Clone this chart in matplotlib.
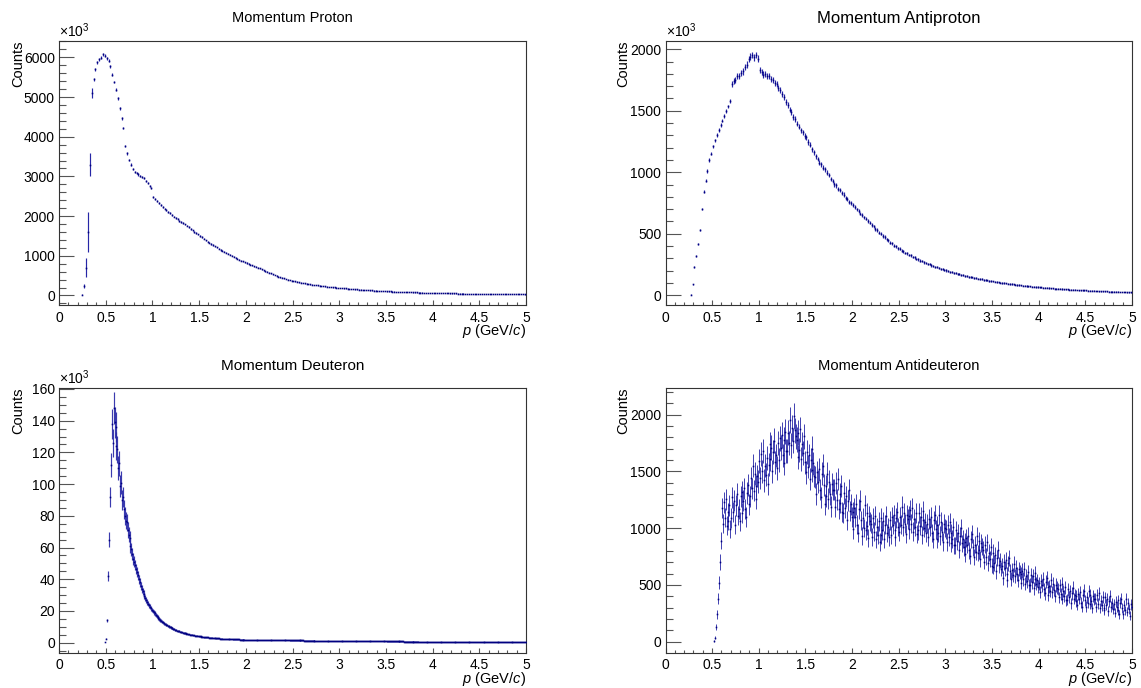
import numpy as np
import matplotlib
matplotlib.use("Agg")
import matplotlib.pyplot as plt
from matplotlib.ticker import MultipleLocator, AutoMinorLocator

plt.rcParams['font.family'] = ['Liberation Sans', 'DejaVu Sans']
plt.rcParams['mathtext.fontset'] = 'custom'
plt.rcParams['mathtext.rm'] = 'Liberation Sans'
plt.rcParams['mathtext.it'] = 'Liberation Sans:italic'

# ---------------- data (counts, y in units shown on the axis) ----------------
titles = ["Momentum Proton", "Momentum Antiproton", "Momentum Deuteron", "Momentum Antideuteron"]

# Proton: bins of 0.02 GeV/c, first bin centre 0.25  (x10^3 counts)
proton_start, proton_width = 0.25, 0.02
proton = [
    20, 240, 700, 1600, 3300, 5100, 5450, 5700, 5880, 5950,
    5990, 6080, 6040, 5980, 5920, 5780, 5560, 5380, 5180, 4970,
    4720, 4460, 4220, 3760, 3580, 3420, 3300, 3190, 3120, 3080,
    3050, 3020, 2990, 2950, 2890, 2830, 2770, 2700, 2480, 2420,
    2370, 2320, 2270, 2230, 2190, 2150, 2110, 2070, 2030, 1990,
    1955, 1920, 1885, 1850, 1820, 1790, 1760, 1720, 1680, 1640,
    1600, 1570, 1540, 1500, 1470, 1430, 1390, 1360, 1330, 1300,
    1270, 1240, 1210, 1180, 1150, 1125, 1100, 1075, 1050, 1025,
    1000, 975, 950, 925, 900, 880, 860, 840, 820, 800,
    780, 760, 740, 720, 700, 680, 660, 640, 615, 595,
    575, 555, 535, 515, 495, 478, 460, 445, 430, 415,
    400, 388, 375, 365, 355, 345, 335, 326, 317, 308,
    300, 292, 284, 276, 268, 261, 254, 247, 241, 235,
    229, 223, 218, 212, 207, 202, 197, 192, 188, 184,
    180, 176, 172, 168, 164, 160, 156, 152, 148, 145,
    141, 138, 135, 132, 129, 126, 123, 120, 117, 114,
    112, 109, 107, 105, 103, 101, 99, 97, 95, 93,
    91, 89, 87, 85, 83, 81, 80, 78, 77, 75,
    74, 72, 71, 69, 68, 66, 65, 63, 62, 61,
    60, 59, 58, 57, 56, 55, 54, 53, 52, 51,
    50, 49, 48, 47.5, 47, 46, 45, 44.5, 44, 43,
    42, 41.5, 41, 40, 39.5, 39, 38, 37.5, 37, 36.5,
    36, 35, 34.5, 34, 33.5, 33, 32.5, 32, 31.5, 31,
    30.5, 30, 29.5, 29, 28.5, 28, 27.5, 27]
proton_edge_err = [20, 60, 240, 500, 300, 120]

# Antiproton: bins of 0.02 GeV/c, first bin centre 0.27  (x10^3 counts)
antiproton_start, antiproton_width = 0.27, 0.02
antiproton = [
    5, 90, 230, 320, 420, 530, 700, 840, 930, 1010,
    1100, 1150, 1210, 1260, 1305, 1345, 1385, 1420, 1455, 1495,
    1535, 1580, 1715, 1745, 1750, 1780, 1785, 1810, 1820, 1855,
    1875, 1920, 1940, 1955, 1935, 1955, 1925, 1830, 1815, 1795,
    1800, 1785, 1783, 1760, 1750, 1725, 1718, 1685, 1672, 1635,
    1610, 1570, 1548, 1510, 1490, 1450, 1434, 1395, 1372, 1340,
    1325, 1296, 1284, 1246, 1224, 1186, 1163, 1131, 1108, 1077,
    1063, 1036, 1024, 996, 979, 946, 928, 901, 893, 866,
    858, 831, 818, 792, 783, 761, 753, 731, 721, 697,
    688, 664, 655, 632, 623, 601, 591, 569, 560, 539,
    530, 509, 501, 481, 473, 453, 446, 427, 421, 403,
    398, 381, 377, 361, 358, 343, 340, 327, 324, 311,
    308, 296, 292, 281, 278, 267, 264, 254, 252, 242,
    238, 232, 226, 221, 216, 211, 206, 201, 196, 191,
    186, 182, 178, 174, 170, 166, 162, 158, 154, 151,
    148, 144, 141, 138, 135, 132, 129, 126, 123, 120,
    117, 115, 112, 110, 107, 105, 102, 100, 98, 96,
    94, 92, 90, 88, 86, 84, 82, 80, 78, 77,
    75, 73, 72, 70, 69, 67, 66, 64, 63, 62,
    60, 59, 58, 57, 55, 54, 53, 52, 51, 50,
    49, 48, 47, 46, 45, 44, 43, 42, 41, 40,
    39, 38.5, 38, 37, 36, 35.5, 35, 34, 33.5, 33,
    32, 31.5, 31, 30, 29.5, 29, 28.5, 28, 27.5, 27,
    26.5, 26, 25.5, 25, 24.5, 24, 23.5]

# Deuteron: bins of 0.01 GeV/c, first bin centre 0.495  (x10^3 counts)
deuteron_start, deuteron_width = 0.495, 0.01
deuteron = [
    0.3,
    2.5, 14, 42, 65, 92, 112, 138, 126, 148, 139,          # 0.505-0.595
    136, 124, 122, 110, 113, 99, 101, 90, 92, 84,          # 0.6x
    80, 77, 76, 71, 68, 66, 61, 59, 56, 53,                # 0.7x
    51, 49, 46.5, 44.5, 42.5, 40, 38, 36, 34, 32.5,        # 0.8x
    31, 29.5, 28, 27, 25.8, 24.6, 23.6, 22.6, 21.6, 20.7,  # 0.9x
    19.9, 19.1, 18.4, 17.6, 16.9, 16.2, 15.5, 14.9, 14.3, 13.8,  # 1.0x
    13.3, 12.8, 12.3, 11.8, 11.4, 11.0, 10.6, 10.2, 9.9, 9.6,    # 1.1x
    9.3, 9.0, 8.7, 8.4, 8.1, 7.9, 7.6, 7.4, 7.2, 6.9,            # 1.2x
    6.7, 6.5, 6.4, 6.2, 6.0, 5.9, 5.7, 5.6, 5.4, 5.3,            # 1.3x
    5.1, 5.0, 4.9, 4.7, 4.6, 4.5, 4.4, 4.3, 4.2, 4.1,            # 1.4x
    4.0, 3.9, 3.8, 3.7, 3.6, 3.5, 3.45, 3.4, 3.35, 3.3,          # 1.5x
    3.2, 3.15, 3.1, 3.05, 3.0, 2.95, 2.9, 2.85, 2.8, 2.75,       # 1.6x
    2.7, 2.65, 2.6, 2.55, 2.5, 2.45, 2.4, 2.38, 2.35, 2.32,      # 1.7x
    2.3, 2.27, 2.24, 2.21, 2.18, 2.15, 2.12, 2.1, 2.08, 2.06,    # 1.8x
    2.04, 2.02, 2.0, 1.98, 1.96, 1.94, 1.92, 1.9, 1.88, 1.86,    # 1.9x
    1.85, 1.84, 1.83, 1.82, 1.81, 1.80, 1.79, 1.78, 1.77, 1.76,  # 2.0x
    1.75, 1.74, 1.73, 1.73, 1.72, 1.71, 1.70, 1.70, 1.69, 1.68,  # 2.1x
    1.67, 1.67, 1.66, 1.65, 1.64, 1.64, 1.63, 1.62, 1.61, 1.61,  # 2.2x
    1.60, 1.59, 1.58, 1.58, 1.57, 1.56, 1.55, 1.55, 1.54, 1.53,  # 2.3x
    1.52, 1.52, 1.51, 1.50, 1.49, 1.49, 1.48, 1.47, 1.46, 1.46,  # 2.4x
    1.45, 1.44, 1.43, 1.43, 1.42, 1.41, 1.40, 1.40, 1.39, 1.38,  # 2.5x
    1.37, 1.37, 1.36, 1.35, 1.34, 1.34, 1.33, 1.32, 1.31, 1.31,  # 2.6x
    1.30, 1.29, 1.28, 1.28, 1.27, 1.26, 1.25, 1.25, 1.24, 1.23,  # 2.7x
    1.22, 1.22, 1.21, 1.20, 1.19, 1.19, 1.18, 1.17, 1.16, 1.16,  # 2.8x
    1.15, 1.14, 1.13, 1.13, 1.12, 1.11, 1.10, 1.10, 1.09, 1.08,  # 2.9x
    1.07, 1.07, 1.06, 1.05, 1.04, 1.04, 1.03, 1.02, 1.01, 1.01,  # 3.0x
    1.00, 0.99, 0.98, 0.98, 0.97, 0.96, 0.95, 0.95, 0.94, 0.93,  # 3.1x
    0.93, 0.92, 0.92, 0.91, 0.91, 0.90, 0.90, 0.89, 0.89, 0.88,  # 3.2x
    0.88, 0.88, 0.87, 0.87, 0.86, 0.86, 0.85, 0.85, 0.84, 0.84,  # 3.3x
    0.84, 0.83, 0.83, 0.82, 0.82, 0.82, 0.81, 0.81, 0.80, 0.80,  # 3.4x
    0.80, 0.79, 0.79, 0.79, 0.78, 0.78, 0.78, 0.77, 0.77, 0.77,  # 3.5x
    0.76, 0.76, 0.76, 0.75, 0.75, 0.75, 0.74, 0.74, 0.74, 0.73,  # 3.6x
    0.73, 0.73, 0.72, 0.72, 0.72, 0.71, 0.71, 0.71, 0.70, 0.70,  # 3.7x
    0.70, 0.70, 0.69, 0.69, 0.69, 0.68, 0.68, 0.68, 0.67, 0.67,  # 3.8x
    0.67, 0.67, 0.66, 0.66, 0.66, 0.65, 0.65, 0.65, 0.64, 0.64,  # 3.9x
    0.64, 0.64, 0.63, 0.63, 0.63, 0.63, 0.62, 0.62, 0.62, 0.62,  # 4.0x
    0.62, 0.61, 0.61, 0.61, 0.61, 0.60, 0.60, 0.60, 0.60, 0.60,  # 4.1x
    0.60, 0.59, 0.59, 0.59, 0.59, 0.58, 0.58, 0.58, 0.58, 0.58,  # 4.2x
    0.58, 0.57, 0.57, 0.57, 0.57, 0.56, 0.56, 0.56, 0.56, 0.56,  # 4.3x
    0.56, 0.55, 0.55, 0.55, 0.55, 0.54, 0.54, 0.54, 0.54, 0.54,  # 4.4x
    0.54, 0.53, 0.53, 0.53, 0.53, 0.52, 0.52, 0.52, 0.52, 0.52,  # 4.5x
    0.52, 0.51, 0.51, 0.51, 0.51, 0.50, 0.50, 0.50, 0.50, 0.50,  # 4.6x
    0.50, 0.49, 0.49, 0.49, 0.49, 0.48, 0.48, 0.48, 0.48, 0.48,  # 4.7x
    0.48, 0.47, 0.47, 0.47, 0.47, 0.46, 0.46, 0.46, 0.46, 0.46,  # 4.8x
    0.46, 0.45, 0.45, 0.45, 0.45, 0.44, 0.44, 0.44, 0.44, 0.44]  # 4.9x

# Antideuteron: bins of 0.01 GeV/c, first bin centre 0.525  (counts)
antideuteron_start, antideuteron_width = 0.525, 0.01
antideuteron = [
    5, 35, 130, 240, 380, 520, 700, 890,                           # 0.525-0.595
    1174, 1039, 1228, 1093, 1255, 1021, 1138, 1066, 1201, 994,     # 0.6x
    1090, 1270, 1140, 1240, 1030, 1200, 1300, 1110, 1170, 1060,    # 0.7x
    1280, 1130, 1320, 1240, 1350, 1170, 1100, 1310, 1380, 1210,    # 0.8x
    1280, 1440, 1350, 1550, 1330, 1480, 1370, 1260, 1460, 1410,    # 0.9x
    1590, 1440, 1650, 1500, 1680, 1420, 1550, 1470, 1620, 1390,    # 1.0x
    1560, 1740, 1610, 1710, 1500, 1670, 1770, 1580, 1640, 1530,    # 1.1x
    1750, 1600, 1790, 1710, 1820, 1640, 1570, 1780, 1850, 1680,    # 1.2x
    1680, 1840, 1750, 1950, 1730, 1880, 1770, 1990, 1860, 1810,    # 1.3x
    1780, 1630, 1840, 1690, 1870, 1610, 1740, 1660, 1810, 1580,    # 1.4x
    1490, 1670, 1540, 1640, 1430, 1600, 1700, 1510, 1570, 1460,    # 1.5x
    1450, 1300, 1490, 1410, 1520, 1340, 1270, 1480, 1550, 1380,    # 1.6x
    1210, 1370, 1280, 1480, 1260, 1410, 1300, 1190, 1390, 1340,    # 1.7x
    1340, 1190, 1400, 1250, 1430, 1170, 1300, 1220, 1370, 1140,    # 1.8x
    1130, 1310, 1180, 1280, 1070, 1240, 1340, 1150, 1210, 1100,    # 1.9x
    1140, 990, 1180, 1100, 1210, 1030, 960, 1170, 1240, 1070,      # 2.0x
    930, 1090, 1000, 1200, 980, 1130, 1020, 910, 1110, 1060,       # 2.1x
    1040, 920, 1090, 970, 1110, 900, 1010, 940, 1060, 880,         # 2.2x
    940, 1090, 980, 1060, 900, 1030, 1110, 960, 1010, 920,         # 2.3x
    1070, 940, 1100, 1030, 1120, 980, 920, 1090, 1140, 1010,       # 2.4x
    970, 1100, 1030, 1190, 1010, 1130, 1040, 950, 1120, 1080,      # 2.5x
    1110, 990, 1160, 1040, 1180, 970, 1080, 1010, 1130, 950,       # 2.6x
    980, 1130, 1020, 1100, 940, 1070, 1150, 1000, 1050, 960,       # 2.7x
    1040, 920, 1080, 1010, 1100, 960, 900, 1070, 1120, 990,        # 2.8x
    900, 1025, 955, 1115, 935, 1055, 970, 880, 1040, 1000,         # 2.9x
    990, 880, 1030, 925, 1050, 870, 960, 905, 1010, 850,           # 3.0x
    850, 980, 885, 955, 810, 930, 1000, 865, 905, 830,             # 3.1x
    880, 775, 910, 855, 930, 805, 755, 900, 950, 830,              # 3.2x
    745, 855, 790, 930, 780, 885, 805, 730, 870, 835,              # 3.3x
    810, 705, 855, 750, 875, 695, 785, 730, 835, 670,              # 3.4x
    660, 785, 695, 765, 620, 740, 810, 675, 715, 640,              # 3.5x
    670, 565, 700, 645, 720, 595, 545, 690, 740, 620,              # 3.6x
    550, 630, 585, 685, 575, 650, 595, 540, 640, 615,              # 3.7x
    595, 520, 625, 550, 640, 510, 575, 535, 610, 495,              # 3.8x
    500, 590, 525, 575, 470, 555, 605, 510, 540, 485,              # 3.9x
    515, 440, 535, 495, 550, 460, 425, 530, 565, 480,              # 4.0x
    410, 490, 445, 545, 435, 510, 455, 400, 500, 475,              # 4.1x
    465, 390, 495, 420, 510, 380, 445, 405, 480, 365,              # 4.2x
    370, 460, 395, 445, 340, 425, 475, 380, 410, 355,              # 4.3x
    400, 325, 420, 380, 435, 345, 310, 415, 450, 365,              # 4.4x
    310, 390, 345, 445, 335, 410, 355, 300, 400, 375,              # 4.5x
    380, 305, 410, 335, 425, 295, 360, 320, 395, 280,              # 4.6x
    300, 390, 325, 375, 270, 355, 405, 310, 340, 285,              # 4.7x
    330, 255, 350, 310, 365, 275, 240, 345, 380, 295,              # 4.8x
    240, 320, 275, 375, 265, 340, 285, 230, 330, 305]              # 4.9x

# axis settings per panel: (ylim, major y step, minor subdivisions, show x10^3)
y_limits = [(-240, 6420), (-80, 2070), (-6.2, 160.6), (-95, 2234)]
y_major = [1000, 500, 20, 500]
y_minor_div = [5, 5, 4, 5]
show_exp = [True, True, True, False]

# ---------------- figure ----------------
W, H = 1141, 688
fig = plt.figure(figsize=(W / 100, H / 100), dpi=100)

def rect(l, t, r, b):
    return [l / W, 1 - b / H, (r - l) / W, (b - t) / H]

rects = [rect(59, 40.7, 526, 305), rect(665.5, 40.7, 1132, 305),
         rect(59, 388, 526, 652.5), rect(665.5, 388, 1132, 652.5)]
title_pos = [(292.5, 18), (898.8, 18), (292.5, 366), (898.8, 366)]
title_size = [10.5, 12, 11, 10.6]
counts_x = [18, 623.5, 18, 623.5]

MC = '#000080'
EC = '#2626a6'

def hist_points(ax, start, width, vals, errs, ealpha=1.0, elw=0.85):
    vals = np.asarray(vals, dtype=float)
    x = start + width * np.arange(len(vals))
    eb = ax.errorbar(x, vals, yerr=errs, fmt='s', ms=1.15, mfc=MC, mec=MC, mew=0,
                     ecolor=EC, elinewidth=elw, capsize=0, zorder=3)
    for lc in eb[2]:
        lc.set_alpha(ealpha)

datasets = []
p = np.asarray(proton, float)
p_err = 0.5 * np.sqrt(p)
p_err[:len(proton_edge_err)] = proton_edge_err
datasets.append((proton_start, proton_width, p, p_err, 1.0, 0.85))
ap = np.asarray(antiproton, float)
ap_err = 0.4 * np.sqrt(ap)
ap_err[22:] = 0.6 * np.sqrt(ap[22:])   # noisier region above the 0.7 GeV/c step
datasets.append((antiproton_start, antiproton_width, ap, ap_err, 1.0, 0.85))
d = np.asarray(deuteron, float)
datasets.append((deuteron_start, deuteron_width, d, 0.07 * d, 0.9, 0.85))
ad = np.asarray(antideuteron, float)
datasets.append((antideuteron_start, antideuteron_width, ad, 2.6 * np.sqrt(ad), 0.85, 0.72))

for i in range(4):
    ax = fig.add_axes(rects[i])
    s, w, v, e, ea, elw = datasets[i]
    hist_points(ax, s, w, v, e, ea, elw)
    ax.set_xlim(0, 5)
    ax.set_ylim(*y_limits[i])
    ax.xaxis.set_major_locator(MultipleLocator(0.5))
    ax.xaxis.set_minor_locator(AutoMinorLocator(5))
    ax.yaxis.set_major_locator(MultipleLocator(y_major[i]))
    ax.yaxis.set_minor_locator(AutoMinorLocator(y_minor_div[i]))
    ax.xaxis.set_major_formatter(plt.FuncFormatter(lambda t, pos: f"{t:g}"))
    ax.yaxis.set_major_formatter(plt.FuncFormatter(lambda t, pos: f"{t:g}"))
    ax.tick_params(axis='y', which='major', direction='in', length=10.5, width=0.8,
                   labelsize=10, pad=3, color='#555555')
    ax.tick_params(axis='y', which='minor', direction='in', length=5.2, width=0.8, color='#555555')
    ax.tick_params(axis='x', which='major', direction='in', length=3.8, width=0.8,
                   labelsize=10, pad=4, color='#555555')
    ax.tick_params(axis='x', which='minor', direction='in', length=1.9, width=0.8, color='#555555')
    for sp in ax.spines.values():
        sp.set_linewidth(0.8)
        sp.set_color('#333333')
    if show_exp[i]:
        ax.text(0.0, 1.004, r'$\times$10$^{3}$', transform=ax.transAxes,
                ha='left', va='bottom', fontsize=10)
    ax_h_px = rects[i][3] * H
    ax.text(1.0, -17.5 / ax_h_px, r'$p$ (GeV/$c$)', transform=ax.transAxes,
            ha='right', va='top', fontsize=10.5)
    tx, ty = title_pos[i]
    fig.text(tx / W, 1 - ty / H, titles[i], ha='center', va='center', fontsize=title_size[i])
    top = rects[i][1] + rects[i][3]
    fig.text(counts_x[i] / W, top, 'Counts', rotation=90, ha='center', va='top', fontsize=10.5)

fig.savefig('out.png', dpi=100)
